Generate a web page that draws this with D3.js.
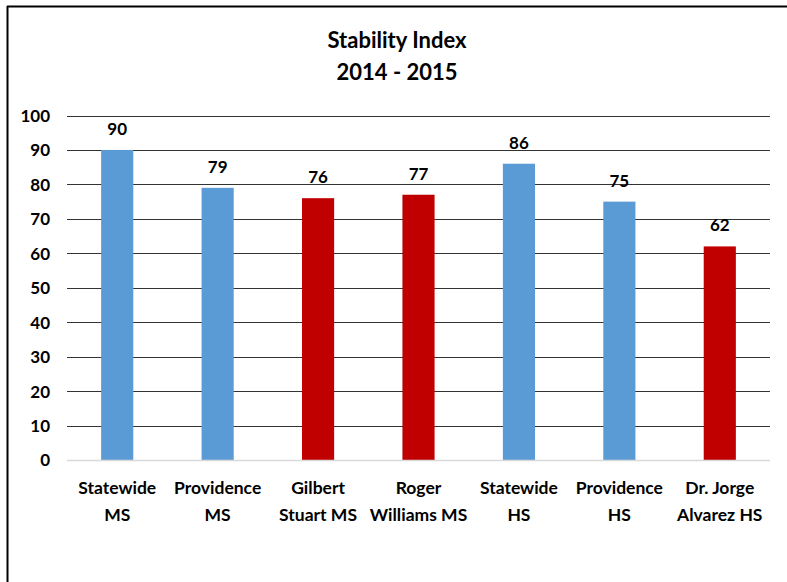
<!DOCTYPE html>
<html>
<head>
<meta charset="utf-8">
<script src="https://cdn.jsdelivr.net/npm/d3@7"></script>
<style>
  html, body { margin: 0; padding: 0; background: #fff; }
  svg text { font-family: "Lato", "Open Sans", sans-serif; }
</style>
</head>
<body>
<svg id="chart" width="787" height="582"></svg>
<script>
const categories = [
  ["Statewide", "MS"],
  ["Providence", "MS"],
  ["Gilbert", "Stuart MS"],
  ["Roger", "Williams MS"],
  ["Statewide", "HS"],
  ["Providence", "HS"],
  ["Dr. Jorge", "Alvarez HS"]
];
const values = [90, 79, 76, 77, 86, 75, 62];
const groups = ["state", "state", "school", "school", "state", "state", "school"];
const yTicks = [0, 10, 20, 30, 40, 50, 60, 70, 80, 90, 100];
const titleLines = ["Stability Index", "2014 - 2015"];

const colorMap = { state: "#5B9BD5", school: "#C00000" };

const svg = d3.select("#chart");
const W = 787, H = 582;
const plot = { left: 67, right: 770, top: 115.5, bottom: 460 };

// frame
svg.append("line").attr("x1", 7).attr("x2", 787).attr("y1", 6.5).attr("y2", 6.5)
  .attr("stroke", "#000").attr("stroke-width", 2);
svg.append("line").attr("x1", 7.5).attr("x2", 7.5).attr("y1", 6).attr("y2", H)
  .attr("stroke", "#000").attr("stroke-width", 2);

const x = d3.scaleBand().domain(d3.range(categories.length))
  .range([plot.left, plot.right]).paddingInner(0.68).paddingOuter(0.34);
const y = d3.scaleLinear().domain([0, 100]).range([plot.bottom, plot.top]);

// gridlines
svg.append("g").selectAll("line").data(yTicks.filter(d => d > 0)).join("line")
  .attr("x1", plot.left).attr("x2", plot.right)
  .attr("y1", d => Math.round(y(d)) + 0.5).attr("y2", d => Math.round(y(d)) + 0.5)
  .attr("stroke", "#333").attr("stroke-width", 1);

// y axis labels
const yAxis = d3.axisLeft(y).tickValues(yTicks).tickSize(0).tickPadding(0);
const yg = svg.append("g").attr("transform", `translate(${plot.left - 17},0)`).call(yAxis);
yg.select(".domain").remove();
yg.selectAll("text").attr("font-size", 17).attr("font-weight", 700)
  .attr("fill", "#000").attr("font-family", "Lato, sans-serif").attr("dy", "0.35em");

// bars
svg.append("g").selectAll("rect").data(values).join("rect")
  .attr("x", (d, i) => x(i)).attr("width", x.bandwidth())
  .attr("y", d => y(d)).attr("height", d => y(0) - y(d))
  .attr("fill", (d, i) => colorMap[groups[i]]);

// zero line
svg.append("line").attr("x1", plot.left).attr("x2", plot.right)
  .attr("y1", y(0) + 0.5).attr("y2", y(0) + 0.5)
  .attr("stroke", "#d9d9d9").attr("stroke-width", 1.5);

// value labels
svg.append("g").selectAll("text").data(values).join("text")
  .attr("x", (d, i) => x(i) + x.bandwidth() / 2)
  .attr("y", d => y(d) - 15)
  .attr("text-anchor", "middle").attr("font-size", 17).attr("font-weight", 700)
  .attr("fill", "#000").text(d => d);

// category labels
const cg = svg.append("g").selectAll("text").data(categories).join("text")
  .attr("text-anchor", "middle").attr("font-size", 17.5).attr("font-weight", 700).attr("fill", "#000");
cg.each(function(d, i) {
  const cx = x(i) + x.bandwidth() / 2;
  d3.select(this).selectAll("tspan").data(d).join("tspan")
    .attr("x", cx).attr("y", (t, j) => 494 + j * 27).text(t => t);
});

// title
svg.append("g").selectAll("text").data(titleLines).join("text")
  .attr("x", 397).attr("y", (d, i) => 48 + i * 32)
  .attr("text-anchor", "middle").attr("font-size", 22).attr("font-weight", 700)
  .attr("fill", "#000").text(d => d);
</script>
</body>
</html>
